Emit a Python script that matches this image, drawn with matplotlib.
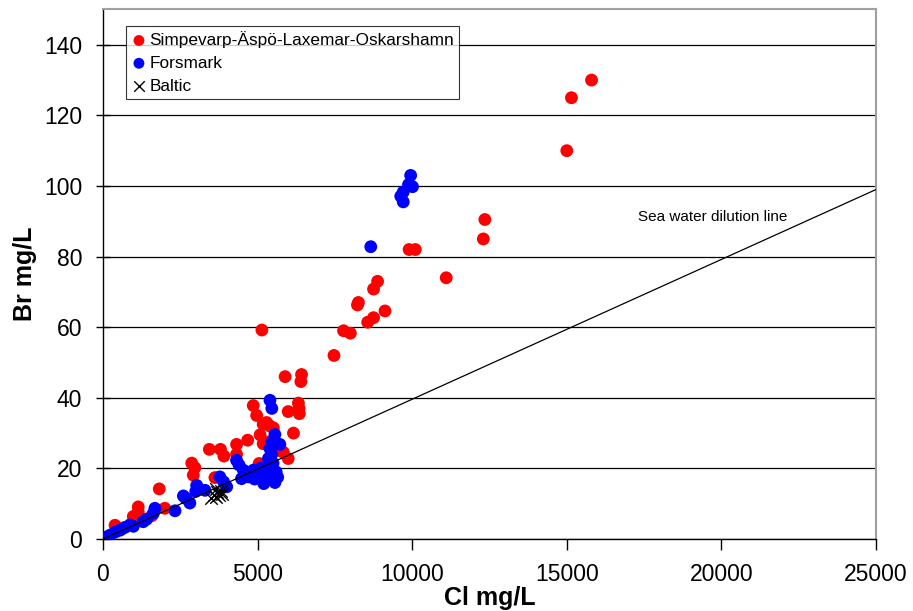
"""
Br vs Cl in groundwaters: Simpevarp/Laxemar vs Forsmark, with Baltic sea water
and the sea water dilution line.
"""
import matplotlib
matplotlib.use("Agg")
import matplotlib.pyplot as plt
import numpy as np

plt.rcParams.update({
    'font.family': ['Liberation Sans', 'DejaVu Sans'],
    'font.size': 16.5,
})

# Simpevarp-Äspö-Laxemar-Oskarshamn (Cl mg/L, Br mg/L)
simp_cl = [15800, 15150, 15000, 12350, 12300, 11100, 10100, 9900, 8880, 8750,
           8750, 8560, 9120, 8260, 8230, 7780, 8000, 7470, 5140, 5890,
           6420, 6400, 4860, 4970, 5990, 6320, 6340, 6350, 5180, 5290,
           5510, 5400, 5080, 5180, 6160, 4680, 4320, 3440, 3800, 3910,
           4320, 5830, 5990, 5050, 2870, 2970, 2920, 3620, 1820, 1140,
           1140, 1040, 980, 2000, 1580, 390, 600, 5300, 5600]
simp_br = [130, 125, 110, 90.5, 85, 74, 82, 82, 73, 70.8,
           62.7, 61.4, 64.6, 67, 66.3, 59, 58.3, 52, 59.2, 46,
           46.6, 44.6, 37.8, 35, 36.1, 38.5, 37, 35.5, 32.5, 33,
           31.5, 32, 29.5, 27, 30, 28, 26.8, 25.4, 25.4, 23.5,
           24, 24.6, 22.8, 21.4, 21.5, 20.2, 18.1, 17.4, 14.2, 9.1,
           7.7, 5.8, 6.4, 8.7, 6.6, 3.9, 2.8, 27.5, 25]

# Forsmark
fors_cl = [9950, 9880, 10010, 9710, 9630, 9710, 8660, 5400, 5460, 5560,
           5720, 5460, 5400, 5350, 5290, 5450, 5500, 5600, 5650, 5560,
           5200, 5100, 4860, 5080, 4540, 4480, 4320, 4400, 4700, 4000,
           3780, 3030, 3000, 2600, 2680, 2810, 2330, 1680, 1630, 1410,
           1300, 980, 870, 710, 550, 400, 230, 120, 0,
           5000, 4900, 5300, 5400, 5250, 4600, 3900, 3300]
fors_br = [103, 100.4, 99.8, 98.3, 97.1, 95.5, 82.8, 39.3, 37, 29.6,
           26.8, 27.5, 25.6, 22.8, 20.4, 24, 21.5, 19, 17.5, 16,
           15.7, 18, 19.5, 20, 19.5, 17.1, 22.3, 21, 17.6, 14.8,
           17.6, 15.2, 13.5, 12.2, 11.5, 10.2, 8, 8.7, 7.3, 5.6,
           4.9, 3.6, 4, 3.3, 2.5, 2, 1.1, 0.6, 0.1,
           18.5, 17, 18, 20, 19, 18.3, 16.2, 13.8]

# Baltic sea water
balt_cl = [3500, 3580, 3650, 3700, 3760, 3820, 3860, 3640]
balt_br = [11.6, 12.5, 11.8, 13.2, 12.4, 13.6, 12.8, 14.2]

# Sea water dilution line end points
sea_cl = [0, 25000]
sea_br = [0, 99]

fig = plt.figure(figsize=(9.13, 6.11), dpi=100)
ax = fig.add_axes([0.1128, 0.1178, 0.8467, 0.8667])

ax.scatter(simp_cl, simp_br, s=85, color="#ff0000", edgecolors="none",
           label="Simpevarp-Äspö-Laxemar-Oskarshamn", zorder=3)
ax.scatter(fors_cl, fors_br, s=85, color="#0000ff", edgecolors="none",
           label="Forsmark", zorder=4)
ax.scatter(balt_cl, balt_br, s=80, marker="x", color="black", linewidths=1.0,
           label="Baltic", zorder=5)
ax.plot(sea_cl, sea_br, color="black", lw=0.9, zorder=6)
ax.text(17300, 90, "Sea water dilution line", fontsize=11)

ax.set_xlim(0, 25000)
ax.set_ylim(0, 150)
ax.set_xticks(np.arange(0, 25001, 5000))
ax.set_yticks(np.arange(0, 141, 20))
ax.yaxis.grid(True, color="black", lw=0.9)
ax.set_axisbelow(True)
ax.tick_params(axis="x", direction="out", length=8, width=1, pad=9)
ax.tick_params(axis="y", direction="inout", length=10, width=1, pad=10)

for s in ["top", "right"]:
    ax.spines[s].set_color("#a0a0a0")
    ax.spines[s].set_linewidth(1.5)
for s in ["left", "bottom"]:
    ax.spines[s].set_linewidth(1.0)

ax.set_xlabel("Cl mg/L", fontweight="bold", fontsize=18, labelpad=0)
ax.set_ylabel("Br mg/L", fontweight="bold", fontsize=18, labelpad=5)

leg = ax.legend(loc="upper left", bbox_to_anchor=(0.0298, 0.969), fontsize=12.4,
                frameon=True, fancybox=False, edgecolor="black",
                handlelength=0.9, handletextpad=0.15, borderaxespad=0,
                labelspacing=0.45, borderpad=0.3, markerscale=0.85,
                scatterpoints=1)
leg.get_frame().set_linewidth(0.8)

fig.savefig("out.png", dpi=100)
